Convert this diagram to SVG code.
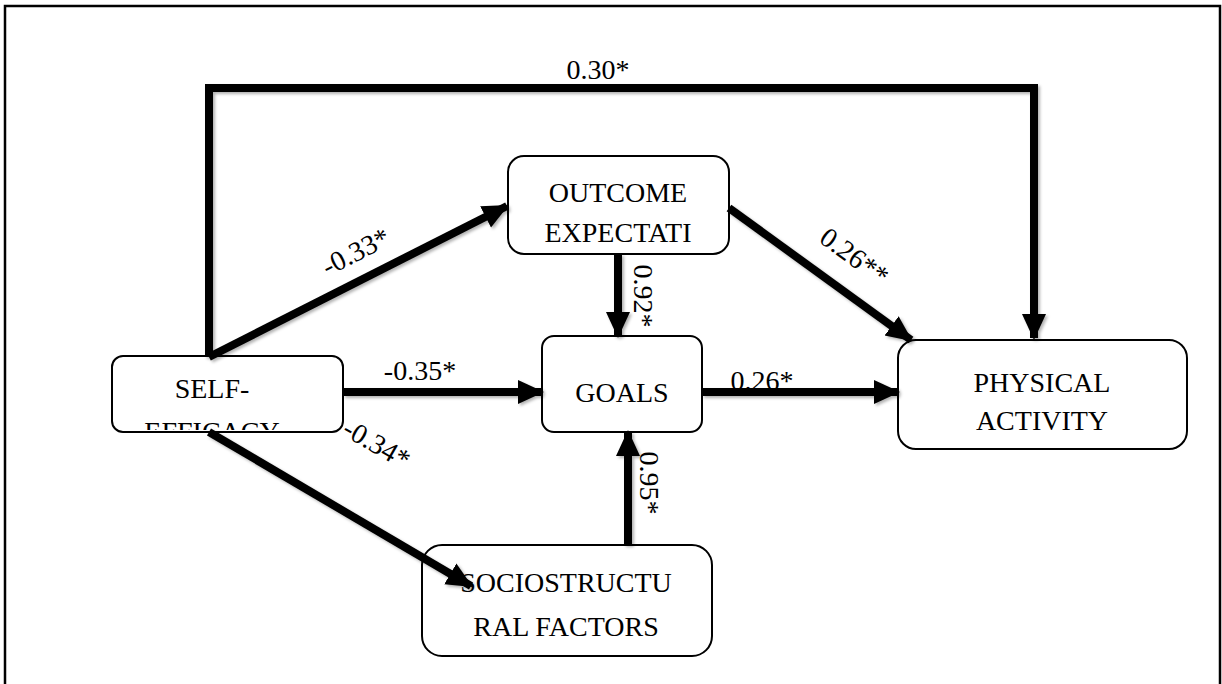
<svg xmlns="http://www.w3.org/2000/svg" width="1222" height="684" viewBox="0 0 1222 684">
<style>
.box{fill:#fff;stroke:#000;stroke-width:2}
.t{font-family:'Liberation Serif','Times New Roman',Tinos,'Noto Serif','DejaVu Serif',serif;font-size:28px;fill:#000;text-anchor:middle}
.c{fill:none;stroke:#000;stroke-width:8;stroke-linejoin:miter}
</style>
<defs>
<marker id="ah" markerUnits="userSpaceOnUse" markerWidth="26" markerHeight="26" refX="24" refY="12" orient="auto" viewBox="0 0 26 24">
<path d="M0,0 L26,12 L0,24 Z" fill="#000"/>
</marker>
<filter id="sh" x="-10%" y="-10%" width="120%" height="120%">
<feDropShadow dx="2" dy="2" stdDeviation="1.5" flood-color="#000" flood-opacity="0.3"/>
</filter>
<clipPath id="clipSE"><rect x="113" y="357" width="229" height="73" rx="10"/></clipPath>
</defs>
<rect x="5" y="6" width="1215" height="690" fill="#fff" stroke="#000" stroke-width="2.5"/>
<g id="nodes">
<g id="self-efficacy">
<rect class="box" x="112" y="356" width="231" height="76" rx="11"/>
<g clip-path="url(#clipSE)">
<text class="t" x="212" y="398">SELF-</text>
<text class="t" x="212" y="441">EFFICACY</text>
</g>
</g>
<g id="outcome">
<rect class="box" x="508" y="156" width="221" height="98" rx="16"/>
<text class="t" x="618" y="202">OUTCOME</text>
<text class="t" x="618" y="242">EXPECTATI</text>
</g>
<g id="goals">
<rect class="box" x="542" y="336" width="160" height="96" rx="12"/>
<text class="t" x="622" y="402">GOALS</text>
</g>
<g id="physical">
<rect class="box" x="898" y="340" width="289" height="109" rx="18"/>
<text class="t" x="1042" y="392">PHYSICAL</text>
<text class="t" x="1042" y="430">ACTIVITY</text>
</g>
<g id="socio">
<rect class="box" x="422" y="545" width="290" height="111" rx="20"/>
<text class="t" x="566" y="592">SOCIOSTRUCTU</text>
<text class="t" x="566" y="636">RAL FACTORS</text>
</g>
</g>
<g id="connectors" filter="url(#sh)">
<path class="c" d="M209,357 L209,88 L1034,88 L1034,338" marker-end="url(#ah)"/>
<path class="c" d="M209,357 L507,206" marker-end="url(#ah)"/>
<path class="c" d="M343,392 L542,392" marker-end="url(#ah)"/>
<path class="c" d="M702,392 L898,392" marker-end="url(#ah)"/>
<path class="c" d="M618,254 L618,336" marker-end="url(#ah)"/>
<path class="c" d="M628,545 L628,432" marker-end="url(#ah)"/>
<path class="c" d="M729,208 L911,340" marker-end="url(#ah)"/>
<path class="c" d="M209,432 L471,586" marker-end="url(#ah)"/>
</g>
<g id="labels">
<text class="t" x="598" y="79">0.30*</text>
<text class="t" transform="translate(360,260) rotate(-27)">-0.33*</text>
<text class="t" x="420" y="380">-0.35*</text>
<text class="t" x="762" y="390">0.26*</text>
<text class="t" transform="translate(634,296) rotate(90)">0.92*</text>
<text class="t" transform="translate(640,483) rotate(90)">0.95*</text>
<text class="t" transform="translate(849,264) rotate(36)">0.26**</text>
<text class="t" transform="translate(372,452) rotate(30)">-0.34*</text>
</g>
</svg>
